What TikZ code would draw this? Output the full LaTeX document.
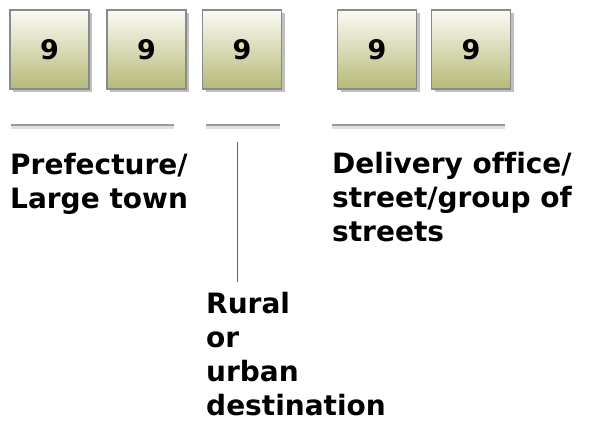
\documentclass[tikz,border=0pt]{standalone}
\usepackage{fontspec}
\setmainfont[Ligatures=NoCommon]{DejaVu Sans}
\usetikzlibrary{shadows}
\definecolor{boxtop}{HTML}{FBFBF5}
\definecolor{boxbot}{HTML}{B6B977}
\definecolor{boxedge}{HTML}{8A8A8A}
\definecolor{rulecol}{HTML}{9A9A9A}
\definecolor{vline}{HTML}{5B6276}
\tikzset{
  digitbox/.style={draw=boxedge, line width=1.2pt, minimum width=79pt, minimum height=79pt,
    inner sep=0pt, top color=boxtop, bottom color=boxbot,
    drop shadow={shadow xshift=3pt, shadow yshift=-3pt, fill=black, opacity=0.25},
    font=\fontsize{27}{30}\selectfont\bfseries},
  bracket/.style={draw=rulecol, line width=2pt,
    preaction={draw=black!12, line width=3pt, transform canvas={yshift=-2pt}}},
  label/.style={anchor=base west, inner sep=0pt, align=left,
    font=\fontsize{28}{34}\selectfont\bfseries}
}
\begin{document}
\begin{tikzpicture}[x=1pt,y=-1pt]
\useasboundingbox (0,0) rectangle (615,432);
\node[digitbox] (b1) at (49.5,49.5) {9};
\node[digitbox] (b2) at (146.5,49.5) {9};
\node[digitbox] (b3) at (242,49.5) {9};
\node[digitbox] (b4) at (377,49.5) {9};
\node[digitbox] (b5) at (471,49.5) {9};

\coordinate (l1a) at (11,125); \coordinate (l1b) at (174,125);
\coordinate (l2a) at (206,125); \coordinate (l2b) at (280,125);
\coordinate (l3a) at (332,125); \coordinate (l3b) at (505,125);
\draw[bracket] (l1a) -- (l1b);
\draw[bracket] (l2a) -- (l2b);
\draw[bracket] (l3a) -- (l3b);

\node[label] (pref) at (10,208) {Prefecture/\\Large town};
\node[label] (deliv) at (332,241) {Delivery office/\\street/group of\\streets};
\node[label] (rural) at (206,415) {Rural\\or\\urban\\destination};

\coordinate (vtop) at (237,142);
\coordinate (vbot) at (237,282);
\draw[vline, line width=1pt] (vtop) -- (vbot);
\end{tikzpicture}
\end{document}
